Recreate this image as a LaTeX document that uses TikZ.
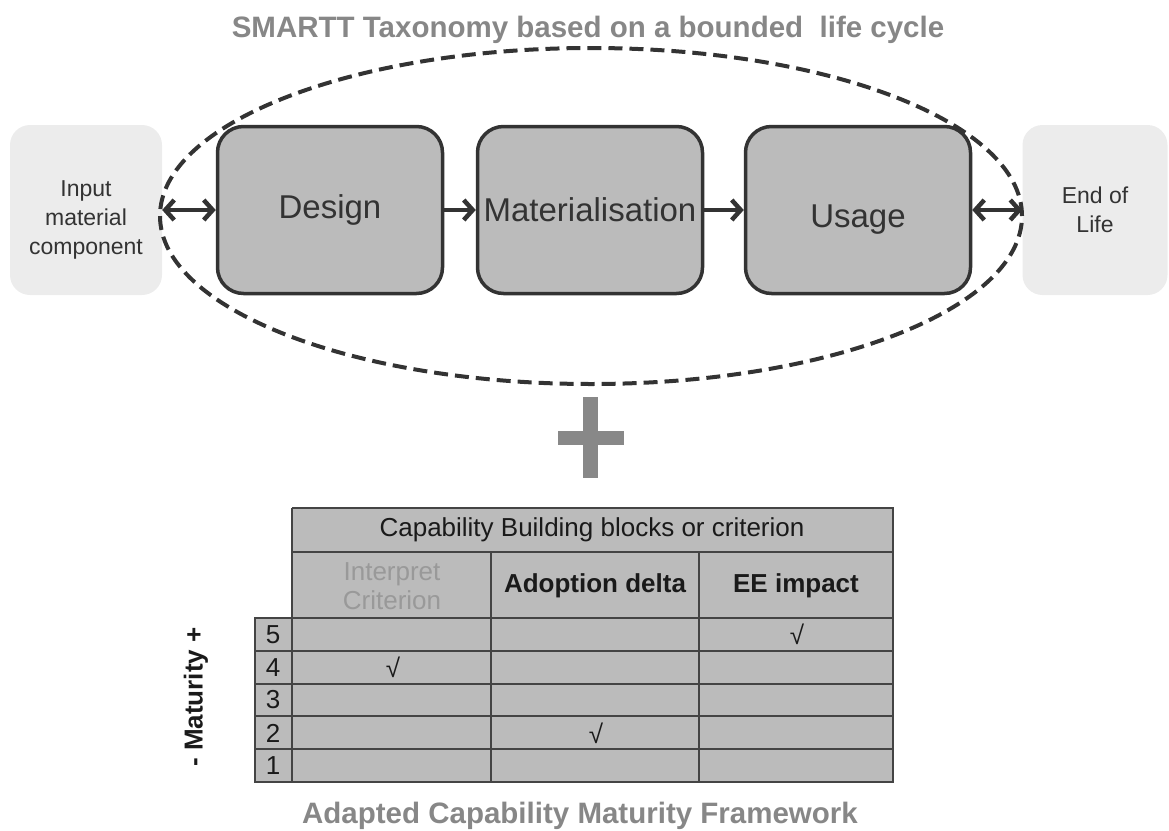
\documentclass[tikz,border=0pt]{standalone}
\usepackage{fontspec}
\setmainfont{Liberation Sans}
\usetikzlibrary{arrows.meta}

\definecolor{boxfill}{HTML}{BBBBBB}
\definecolor{boxline}{HTML}{333333}
\definecolor{endfill}{HTML}{ECECEC}
\definecolor{titlegray}{HTML}{878787}
\definecolor{plusgray}{HTML}{888888}
\definecolor{gridline}{HTML}{444444}
\definecolor{fadetext}{HTML}{999999}
\definecolor{tabletext}{HTML}{1A1A1A}

\begin{document}
\begin{tikzpicture}[x=1pt, y=-1pt,
        stage/.style={draw=boxline, fill=boxfill, line width=3.5pt, rounded corners=26pt, minimum width=225pt, minimum height=167pt, inner sep=0pt, text=boxline, font=\fontsize{33}{38}\selectfont},
        outside/.style={fill=endfill, rounded corners=20pt, minimum height=170pt, inner sep=0pt, align=center, text=boxline, font=\fontsize{23}{29}\selectfont},
        flow/.style={line width=4.5pt, draw=boxline, >={Straight Barb[length=9pt,width=20pt]}},
        cell/.style={inner sep=0pt, text=tabletext, font=\fontsize{26}{29}\selectfont},
        cellbold/.style={cell, font=\fontsize{26}{29}\selectfont\bfseries},
        title/.style={font=\fontsize{29.5}{34}\selectfont\bfseries, text=titlegray}]

        \useasboundingbox (0,0) rectangle (1169,830);

        \node[title, anchor=base] (toptitle) at (588,37) {SMARTT Taxonomy based on a bounded\ \ life cycle};

        \node[outside, minimum width=152pt, text height=93pt, text depth=5pt] (input) at (86,210) {Input\\material\\component};
        \node[stage] (design) at (330,210) {Design};
        \node[stage] (mater) at (590,210) {Materialisation};
        \node[stage, text height=35pt, text depth=0pt] (usage) at (858,210) {Usage};
        \node[outside, minimum width=145pt] (eol) at (1095,210) {End of\\Life};

        \draw[flow, <->] (input) -- (design);
        \draw[flow, ->] (design) -- (mater);
        \draw[flow, ->] (mater) -- (usage);
        \draw[flow, <->] (usage) -- (eol);

        \draw[boxline, line width=4pt, dash pattern=on 14pt off 7pt] (591,216) ellipse [x radius=431pt, y radius=168pt];

        % plus sign
        \fill[plusgray] (583,397) rectangle (598,478);
        \fill[plusgray] (558,431) rectangle (624,445);

        % maturity table
        \fill[boxfill] (292,508) rectangle (893,618);
        \fill[boxfill] (255,618) rectangle (893,782);
        \draw[gridline, line width=2pt] (292,508) -- (893,508) -- (893,782) -- (255,782) -- (255,618) -- (893,618);
        \draw[gridline, line width=2pt] (292,508) -- (292,782);
        \draw[gridline, line width=2pt] (292,552) -- (893,552);
        \foreach \y in {651,684,716,749}
            \draw[gridline, line width=2pt] (255,\y) -- (893,\y);
        \foreach \x in {491,699}
            \draw[gridline, line width=2pt] (\x,552) -- (\x,782);

        \node[cell] (blocks) at (592,530) {Capability Building blocks or criterion};
        \node[cell, text=fadetext, align=center] (interpret) at (392,586) {Interpret\\Criterion};
        \node[cellbold] (adoption) at (595,586) {Adoption delta};
        \node[cellbold] (eeimpact) at (796,586) {EE impact};

        \foreach \n/\y in {5/635,4/668,3/700,2/733,1/766}
            \node[cell] (level\n) at (273,\y) {\n};

        \node[cell] (tickee) at (797,634) {√};
        \node[cell] (tickinterpret) at (393,667) {√};
        \node[cell] (tickadoption) at (596,733) {√};

        \node[cellbold, rotate=90] (maturity) at (196,697) {- Maturity +};

        \node[title, anchor=base] (bottomtitle) at (580,823) {Adapted Capability Maturity Framework};
\end{tikzpicture}
\end{document}
